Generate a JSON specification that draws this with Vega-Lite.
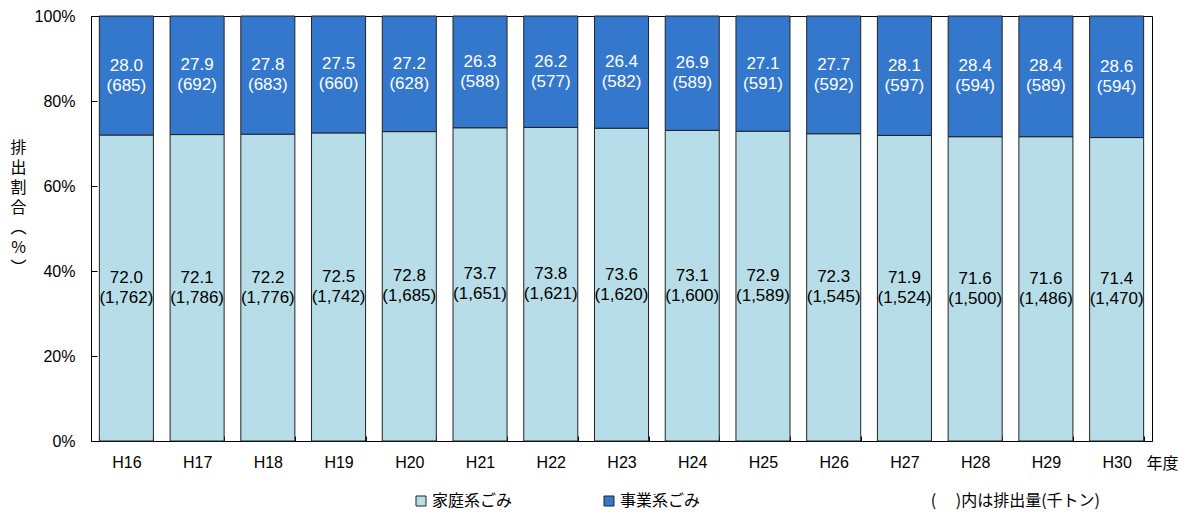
{
  "$schema": "https://vega.github.io/schema/vega-lite/v6.json",
  "width": 1061,
  "height": 425,
  "autosize": {"type": "none"},
  "padding": {"left": 91, "top": 16, "right": 38, "bottom": 72},
  "config": {
    "font": "Liberation Sans, Noto Sans CJK JP",
    "view": {"stroke": "#000", "strokeWidth": 1},
    "axis": {"domainColor": "#000", "tickColor": "#000", "labelColor": "#000", "titleColor": "#000", "grid": false}
  },
  "title": {
    "text": "(　 )内は排出量(千トン)",
    "orient": "bottom",
    "anchor": "end",
    "frame": "group",
    "font": "Noto Sans CJK JP",
    "fontSize": 16,
    "fontWeight": "normal",
    "color": "#000",
    "dx": -52,
    "offset": -16
  },
  "data": {
    "values": [
      {"year": "H16", "type": "家庭系ごみ", "ord": 1, "pct": 72.0, "amount": 1762},
      {"year": "H16", "type": "事業系ごみ", "ord": 2, "pct": 28.0, "amount": 685},
      {"year": "H17", "type": "家庭系ごみ", "ord": 1, "pct": 72.1, "amount": 1786},
      {"year": "H17", "type": "事業系ごみ", "ord": 2, "pct": 27.9, "amount": 692},
      {"year": "H18", "type": "家庭系ごみ", "ord": 1, "pct": 72.2, "amount": 1776},
      {"year": "H18", "type": "事業系ごみ", "ord": 2, "pct": 27.8, "amount": 683},
      {"year": "H19", "type": "家庭系ごみ", "ord": 1, "pct": 72.5, "amount": 1742},
      {"year": "H19", "type": "事業系ごみ", "ord": 2, "pct": 27.5, "amount": 660},
      {"year": "H20", "type": "家庭系ごみ", "ord": 1, "pct": 72.8, "amount": 1685},
      {"year": "H20", "type": "事業系ごみ", "ord": 2, "pct": 27.2, "amount": 628},
      {"year": "H21", "type": "家庭系ごみ", "ord": 1, "pct": 73.7, "amount": 1651},
      {"year": "H21", "type": "事業系ごみ", "ord": 2, "pct": 26.3, "amount": 588},
      {"year": "H22", "type": "家庭系ごみ", "ord": 1, "pct": 73.8, "amount": 1621},
      {"year": "H22", "type": "事業系ごみ", "ord": 2, "pct": 26.2, "amount": 577},
      {"year": "H23", "type": "家庭系ごみ", "ord": 1, "pct": 73.6, "amount": 1620},
      {"year": "H23", "type": "事業系ごみ", "ord": 2, "pct": 26.4, "amount": 582},
      {"year": "H24", "type": "家庭系ごみ", "ord": 1, "pct": 73.1, "amount": 1600},
      {"year": "H24", "type": "事業系ごみ", "ord": 2, "pct": 26.9, "amount": 589},
      {"year": "H25", "type": "家庭系ごみ", "ord": 1, "pct": 72.9, "amount": 1589},
      {"year": "H25", "type": "事業系ごみ", "ord": 2, "pct": 27.1, "amount": 591},
      {"year": "H26", "type": "家庭系ごみ", "ord": 1, "pct": 72.3, "amount": 1545},
      {"year": "H26", "type": "事業系ごみ", "ord": 2, "pct": 27.7, "amount": 592},
      {"year": "H27", "type": "家庭系ごみ", "ord": 1, "pct": 71.9, "amount": 1524},
      {"year": "H27", "type": "事業系ごみ", "ord": 2, "pct": 28.1, "amount": 597},
      {"year": "H28", "type": "家庭系ごみ", "ord": 1, "pct": 71.6, "amount": 1500},
      {"year": "H28", "type": "事業系ごみ", "ord": 2, "pct": 28.4, "amount": 594},
      {"year": "H29", "type": "家庭系ごみ", "ord": 1, "pct": 71.6, "amount": 1486},
      {"year": "H29", "type": "事業系ごみ", "ord": 2, "pct": 28.4, "amount": 589},
      {"year": "H30", "type": "家庭系ごみ", "ord": 1, "pct": 71.4, "amount": 1470},
      {"year": "H30", "type": "事業系ごみ", "ord": 2, "pct": 28.6, "amount": 594}
    ]
  },
  "transform": [
    {"stack": "pct", "groupby": ["year"], "sort": [{"field": "ord"}], "as": ["y0", "y1"]},
    {"calculate": "(datum.y0 + datum.y1) / 2", "as": "ymid"},
    {"calculate": "[format(datum.pct, '.1f'), '(' + format(datum.amount, ',') + ')']", "as": "label"}
  ],
  "layer": [
    {
      "mark": {"type": "bar", "stroke": "#222", "strokeWidth": 1},
      "encoding": {
        "x": {
          "field": "year",
          "type": "ordinal",
          "scale": {"paddingInner": 0.236, "paddingOuter": 0.118},
          "axis": {
            "title": "年度",
            "titleFont": "Noto Sans CJK JP",
            "titleFontSize": 16,
            "titleFontWeight": "normal",
            "titleX": 1055,
            "titleY": 27,
            "titleAlign": "left",
            "titleBaseline": "alphabetic",
            "titleAnchor": null,
            "labelAngle": 0,
            "labelFontSize": 16,
            "tickBand": "extent",
            "tickSize": -5,
            "labelPadding": 18
          }
        },
        "y": {
          "field": "y0",
          "type": "quantitative",
          "scale": {"domain": [0, 100]},
          "axis": {
            "title": ["排", "出", "割", "合", "︵", "%", "︶"],
            "titleFont": "Noto Sans CJK JP",
            "titleFontSize": 16,
            "titleFontWeight": "normal",
            "titleLineHeight": 20,
            "titleAngle": 0,
            "titleX": -73,
            "titleY": 123,
            "titleAlign": "center",
            "titleBaseline": "top",
            "values": [0, 20, 40, 60, 80, 100],
            "labelExpr": "datum.value + '%'",
            "labelFontSize": 16,
            "tickSize": -6,
            "labelPadding": 22
          }
        },
        "y2": {"field": "y1"},
        "color": {
          "field": "type",
          "type": "nominal",
          "sort": ["家庭系ごみ", "事業系ごみ"],
          "scale": {"domain": ["家庭系ごみ", "事業系ごみ"], "range": ["#B7DEE8", "#3478CE"]},
          "legend": {
            "orient": "none",
            "legendX": 322,
            "legendY": 477,
            "direction": "horizontal",
            "title": null,
            "symbolType": "square",
            "symbolSize": 100,
            "symbolStrokeColor": "#222",
            "symbolStrokeWidth": 1,
            "labelFont": "Noto Sans CJK JP",
            "labelFontSize": 16,
            "labelColor": "#000",
            "labelOffset": 3,
            "columnPadding": 88
          }
        }
      }
    },
    {
      "mark": {"type": "text", "fontSize": 17, "lineHeight": 20, "baseline": "middle", "align": "center", "dy": -10},
      "encoding": {
        "x": {"field": "year", "type": "ordinal"},
        "y": {"field": "ymid", "type": "quantitative"},
        "text": {"field": "label"},
        "color": {
          "condition": {"test": "datum.type === '事業系ごみ'", "value": "#ffffff"},
          "value": "#000000"
        }
      }
    }
  ]
}
